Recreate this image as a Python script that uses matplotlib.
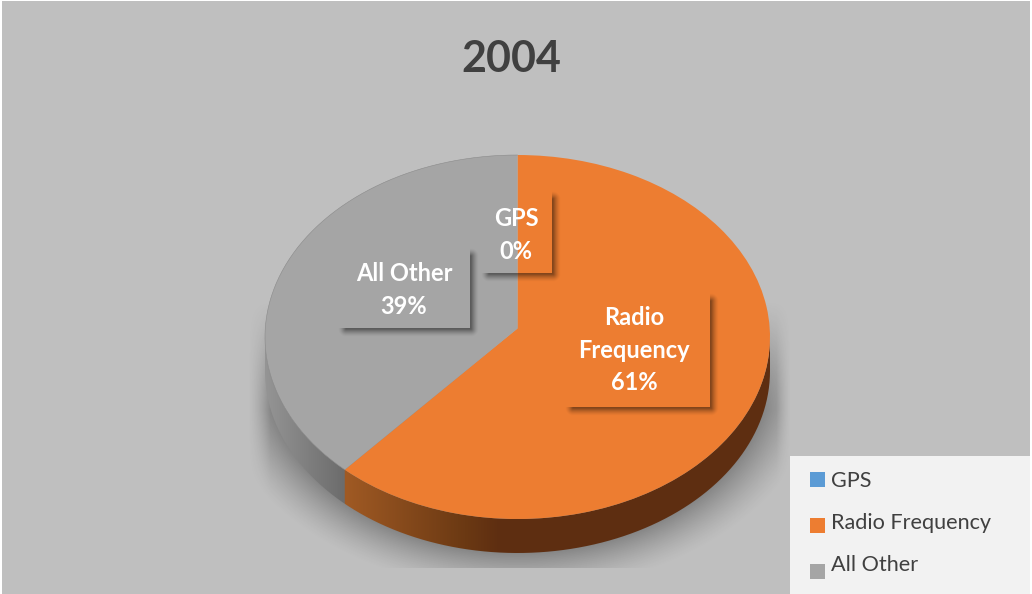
import numpy as np
import matplotlib
matplotlib.use('Agg')
import matplotlib.pyplot as plt
from matplotlib.colors import to_rgb
from matplotlib.patches import Rectangle
from matplotlib.path import Path
from matplotlib.transforms import Transform

# Data
title = '2004'
categories = ['GPS', 'Radio Frequency', 'All Other']
values = [0.0, 61.49, 38.51]
colors = ['#5B9BD5', '#ED7D31', '#A5A5A5']
data_labels = ['GPS', 'Radio\nFrequency', 'All Other']

W, H = 1032, 594
BG = '#BFBFBF'
TEXT = '#404040'

plt.rcParams['font.family'] = ['Lato', 'DejaVu Sans']

# Ellipse of the top face in pixels, plus the tilt of the 3D view
cx, cy, rx, ry = 517.5, 337.0, 252.5, 182.0
apex_up = 17.0
depth = 34.0
k = apex_up / (2 * ry)


class Tilt(Transform):
    # unit circle -> top face of the tilted pie
    input_dims = 2
    output_dims = 2

    def transform_non_affine(self, pts):
        pts = np.asarray(pts, dtype=float)
        u, v = pts[:, 0], pts[:, 1]
        d = 1 + k * v
        return np.column_stack([cx + rx * np.sqrt(1 - k * k) * u / d,
                                cy - ry * (v + k) / d])


tilt = Tilt()

fig = plt.figure(figsize=(W / 100, H / 100), dpi=100, facecolor='white')
ax = fig.add_axes([0, 0, 1, 1])

wedges, _ = ax.pie(values, colors=colors, startangle=90, counterclock=False,
                   wedgeprops={'linewidth': 0, 'zorder': 5})
for w in wedges:
    w.set_transform(tilt + ax.transData)

ax.add_patch(Rectangle((2, 1), W - 4, H, fc=BG, ec='none', zorder=0))

# soft shadow under the pie, it stops short at the sides and at the bottom
yy, xx = np.mgrid[0:568, 0:W]
r = np.hypot((xx + 0.5 - cx) / rx, (yy + 0.5 - cy - depth) / ry)
fade = np.clip((1 - np.maximum(r - 1, 0) * 230 / 50), 0, 1) ** 1.4
fade *= np.clip((yy - 300) / 110, 0, 1)
fade *= np.clip((xx - 248) / 22, 0, 1) * np.clip((790 - xx) / 14, 0, 1)
shadow = np.zeros(xx.shape + (4,))
shadow[..., 3] = 0.3 * fade
ax.imshow(shadow, extent=(0, W, 568, 0), aspect='auto', zorder=1)

# side wall, shaded from left to right
angle = np.deg2rad(90 - 3.6 * (values[0] + values[1]))
split_x = tilt.transform_non_affine(np.array([[np.cos(angle), np.sin(angle)]]))[0, 0]
stops_x = [cx - rx, split_x - 0.5, split_x + 0.5, 465, 500, cx + rx]
stops_c = np.array([to_rgb(c) for c in
                    ['#959595', '#6C6C6C', '#A05A24', '#6B3913', '#5E2E11', '#5E2E11']])
xs = np.arange(int(cx - rx), int(cx + rx) + 2) + 0.5
wall = np.column_stack([np.interp(xs, stops_x, stops_c[:, i]) for i in range(3)])[None, :, :]
im = ax.imshow(wall, extent=(xs[0] - 0.5, xs[-1] + 0.5, cy + ry + depth + 2, cy - 2),
               aspect='auto', interpolation='nearest', zorder=2)
t = np.linspace(0, np.pi, 200)
lower = np.column_stack([cx + rx * np.cos(t), cy + ry * np.sin(t)])
upper = lower[::-1] + [0, depth]
im.set_clip_path(Path(np.vstack([lower, upper, lower[:1]])), ax.transData)

# thin rim along the grey slice
a_rim = np.linspace(angle, -1.5 * np.pi, 200)
rim = tilt.transform_non_affine(np.column_stack([np.cos(a_rim), np.sin(a_rim)]))
ax.plot(rim[:, 0], rim[:, 1], color='#8A8A8A', lw=0.4, zorder=6)

# data labels with their drop shadows
boxes = [(483, 193, 552, 273), (567, 295, 710, 407), (340, 250, 470, 328)]
centres = [(516, 235), (634, 350), (404, 290)]
for (x0, y0, x1, y1), (tx, ty), name, val in zip(boxes, centres, data_labels, values):
    pad = 14
    sx, sy = np.meshgrid(np.arange(x0 - pad, x1 + pad) + 0.5, np.arange(y0 - pad, y1 + pad) + 0.5)
    dx = np.maximum(np.maximum(x0 + 6 - sx, sx - x1 - 1), 0)
    dy = np.maximum(np.maximum(y0 + 6 - sy, sy - y1 - 1), 0)
    a = 0.45 * np.clip(1 - np.hypot(dx, dy) / 8, 0, 1) ** 1.5
    a[(sx < x1) & (sy < y1)] = 0
    box_shadow = np.zeros(a.shape + (4,))
    box_shadow[..., 3] = a
    ax.imshow(box_shadow, extent=(x0 - pad, x1 + pad, y1 + pad, y0 - pad),
              aspect='auto', zorder=6)
    ax.text(tx, ty, f'{name}\n{val:.0f}%', color='white', fontsize=17, fontweight='bold',
            ha='center', va='center', linespacing=1.5, zorder=7)

ax.text(511, 59, title, color=TEXT, fontsize=31, fontweight='bold',
        ha='center', va='center', zorder=7)

# legend
ax.add_patch(Rectangle((790, 456), 240, 138, fc='#F2F2F2', ec='none', zorder=8))
swatch_y = [472, 518, 564]
label_y = [481, 523, 565]
for c, name, sy, ly in zip(colors, categories, swatch_y, label_y):
    ax.add_patch(Rectangle((810, sy), 15, 15, fc=c, ec='none', zorder=9))
    ax.text(831, ly, name, color=TEXT, fontsize=15.6, ha='left', va='center', zorder=9)

ax.set_xlim(0, W)
ax.set_ylim(H, 0)
ax.set_aspect('auto')
ax.axis('off')

fig.savefig('out.png', dpi=100)
